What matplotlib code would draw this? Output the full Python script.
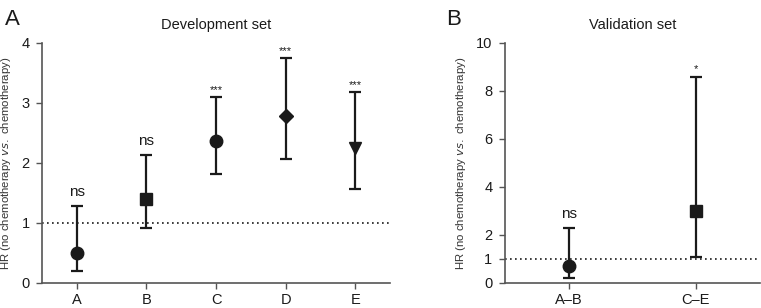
import numpy as np
import matplotlib.pyplot as plt

plt.rcParams['font.family'] = ['Liberation Sans', 'DejaVu Sans']

# Development set
dev_labels = ['A', 'B', 'C', 'D', 'E']
dev_hr = [0.50, 1.40, 2.37, 2.78, 2.25]
dev_lo = [0.20, 0.92, 1.82, 2.07, 1.57]
dev_hi = [1.28, 2.13, 3.10, 3.75, 3.18]
dev_sig = ['ns', 'ns', '***', '***', '***']
dev_markers = ['o', 's', 'o', 'D', 'v']

# Validation set
val_labels = ['A–B', 'C–E']
val_hr = [0.70, 3.00]
val_lo = [0.20, 1.10]
val_hi = [2.30, 8.60]
val_sig = ['ns', '*']
val_markers = ['o', 's']

col = '#1a1a1a'
spine_col = '#555555'

fig = plt.figure(figsize=(7.61, 3.08), dpi=100)
axA = fig.add_axes([0.0552, 0.0812, 0.4573, 0.7792])
axB = fig.add_axes([0.6636, 0.0812, 0.3345, 0.7792])


def panel(ax, labels, hr, lo, hi, sig, markers, ymax, yticks, title, sig_off):
    x = np.arange(len(labels))
    for i in range(len(labels)):
        ax.errorbar(x[i], hr[i], yerr=[[hr[i] - lo[i]], [hi[i] - hr[i]]],
                    fmt=markers[i], color=col, ecolor=col, elinewidth=1.6,
                    capsize=4.5, capthick=1.6,
                    markersize=9 if markers[i] != 'D' else 7.5, zorder=3)
        if sig[i] == 'ns':
            ax.text(x[i], hi[i] + sig_off, 'ns', ha='center', va='bottom',
                    fontsize=11, color=col)
        else:
            ax.text(x[i], hi[i] + sig_off * 0.3, sig[i], ha='center',
                    va='bottom', fontsize=8, color=col)
    ax.axhline(1, color=col, linestyle=(0, (1, 2)), linewidth=1.2, zorder=1)
    ax.set_xlim(-0.5, len(labels) - 0.5)
    ax.set_ylim(0, ymax)
    ax.set_yticks(yticks)
    ax.set_xticks(x)
    ax.set_xticklabels(labels)
    ax.tick_params(labelsize=10.5, colors=col, length=4, width=1,
                   color=spine_col)
    ax.tick_params(axis='x', pad=3)
    ax.tick_params(axis='y', pad=5)
    for s in ['top', 'right']:
        ax.spines[s].set_visible(False)
    for s in ['left', 'bottom']:
        ax.spines[s].set_color(spine_col)
        ax.spines[s].set_linewidth(1.2)
    ax.set_title(title, fontsize=10.5, color=col, pad=10)
    ax.set_ylabel('HR (no chemotherapy $\\it{vs.}$ chemotherapy)',
                  fontsize=8.2, color='#333333', labelpad=6)


panel(axA, dev_labels, dev_hr, dev_lo, dev_hi, dev_sig, dev_markers,
      4, [0, 1, 2, 3, 4], 'Development set', 0.12)
panel(axB, val_labels, val_hr, val_lo, val_hi, val_sig, val_markers,
      10, [0, 1, 2, 4, 6, 8, 10], 'Validation set', 0.3)

fig.text(0.006, 0.97, 'A', fontsize=16, va='top', ha='left', color=col)
fig.text(0.586, 0.97, 'B', fontsize=16, va='top', ha='left', color=col)

fig.savefig('out.png', dpi=100)
